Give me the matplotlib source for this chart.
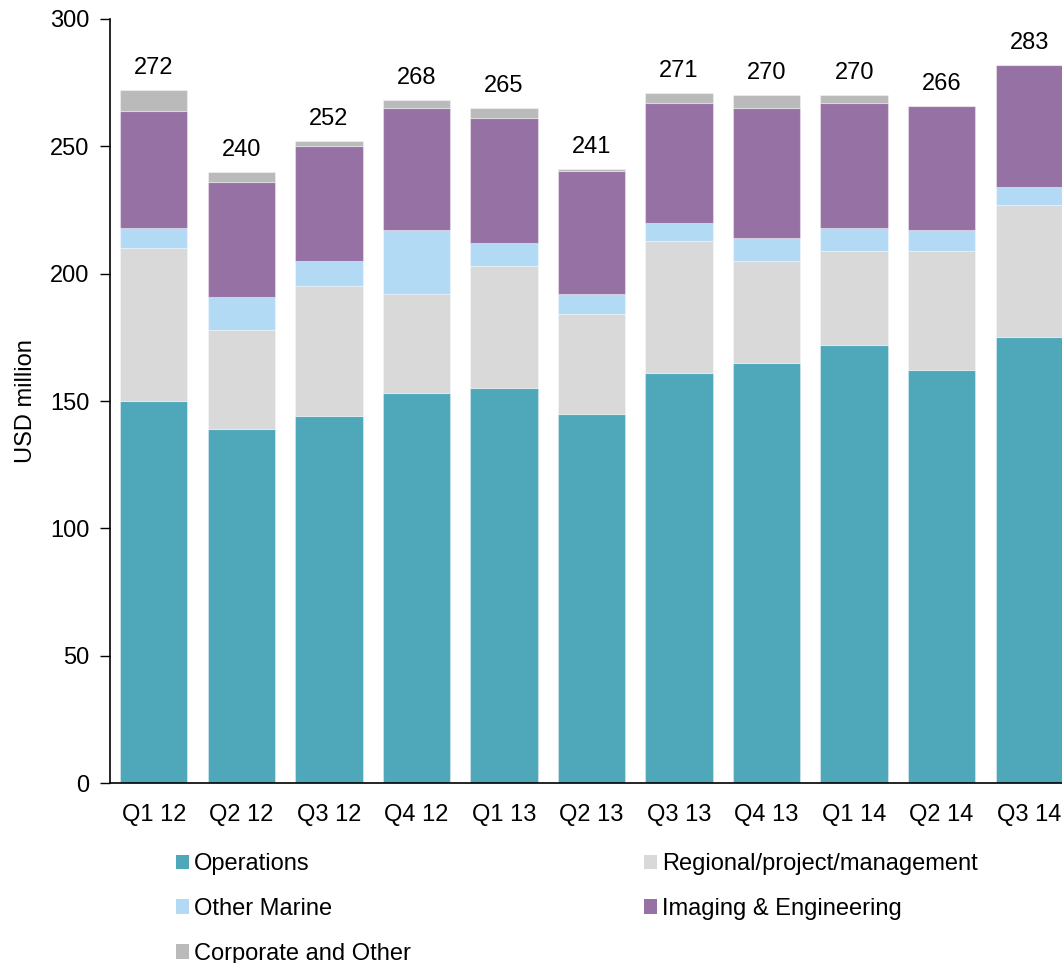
import matplotlib
matplotlib.use("Agg")
import matplotlib.pyplot as plt
import numpy as np
from matplotlib.patches import Patch

plt.rcParams['font.family'] = ['Liberation Sans', 'DejaVu Sans']

quarters = ["Q1 12", "Q2 12", "Q3 12", "Q4 12", "Q1 13", "Q2 13",
            "Q3 13", "Q4 13", "Q1 14", "Q2 14", "Q3 14"]
operations = [150, 139, 144, 153, 155, 145, 161, 165, 172, 162, 175]
regional = [60, 39, 51, 39, 48, 39, 52, 40, 37, 47, 52]
other_marine = [8, 13, 10, 25, 9, 8, 7, 9, 9, 8, 7]
imaging = [46, 45, 45, 48, 49, 48.5, 47, 51, 49, 49, 48]
corporate = [8, 4, 2, 3, 4, 0.5, 4, 5, 3, 0, 0]
totals = [272, 240, 252, 268, 265, 241, 271, 270, 270, 266, 283]

series = [
    ("Operations", operations, "#4FA7BA"),
    ("Regional/project/management", regional, "#D9D9D9"),
    ("Other Marine", other_marine, "#B3DAF5"),
    ("Imaging & Engineering", imaging, "#9672A4"),
    ("Corporate and Other", corporate, "#BABABA"),
]

FS = 17
W, H = 1062, 963
fig = plt.figure(figsize=(W / 100, H / 100), dpi=100)
ax = fig.add_axes([110 / W, 1 - 783 / H, 963 / W, (783 - 19) / H])

x = np.arange(len(quarters))
bottom = np.zeros(len(quarters))
for name, vals, col in series:
    v = np.array(vals, dtype=float)
    ax.bar(x, v, width=0.77, bottom=bottom, color=col, edgecolor=(1, 1, 1, 0.35),
           linewidth=0.8, label=name, zorder=2)
    bottom += v

for xi, top, t in zip(x, bottom, totals):
    ax.text(xi, top + 6.3, str(t), ha="center", va="baseline", fontsize=FS)

ax.set_xlim(-0.5, 10.5)
ax.set_ylim(0, 300)
ax.set_yticks(range(0, 301, 50))
ax.set_xticks(x)
ax.set_xticklabels(quarters)
ax.tick_params(axis="y", direction="out", length=7, width=1, labelsize=FS, pad=8)
ax.tick_params(axis="x", length=0, labelsize=FS, pad=15)
for s in ["top", "right"]:
    ax.spines[s].set_visible(False)
ax.spines["left"].set_linewidth(1.2)
ax.spines["bottom"].set_linewidth(1.2)
ax.set_ylabel("USD million", fontsize=FS, labelpad=9)

handles = [Patch(facecolor=c, edgecolor='none', label=n) for n, _, c in series]
order_left = [0, 2, 4]
order_right = [1, 3]
common = dict(loc="upper left", frameon=False, fontsize=FS, handlelength=0.55,
              handleheight=0.55, handletextpad=0.2, labelspacing=0.97,
              borderaxespad=0, borderpad=0)
fig.legend([handles[i] for i in order_left], [series[i][0] for i in order_left],
           bbox_to_anchor=(176 / W, 1 - 853 / H), **common)
fig.legend([handles[i] for i in order_right], [series[i][0] for i in order_right],
           bbox_to_anchor=(644 / W, 1 - 853 / H), **common)

fig.savefig("out.png", dpi=100)
